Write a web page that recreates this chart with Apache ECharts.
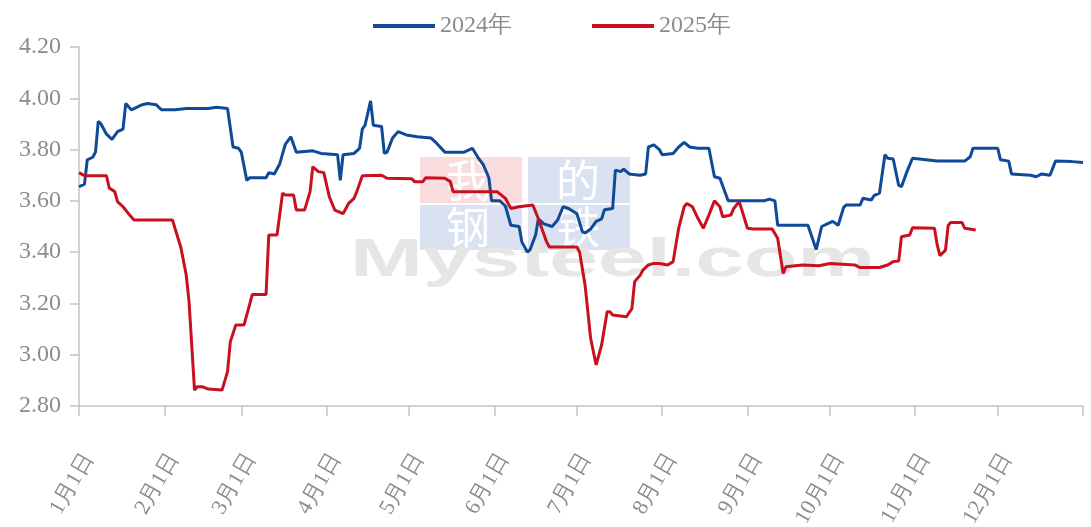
<!DOCTYPE html>
<html>
<head>
<meta charset="utf-8">
<script src="https://cdn.jsdelivr.net/npm/echarts@6/dist/echarts.min.js"></script>
<style>
    html, body {margin: 0; padding: 0; background: #fff;}
    #main {width: 1091px; height: 527px;}
</style>
</head>
<body>
<div id="main"></div>
<script>
    // 每月天数（横轴按365天排布）
    var monthDays = [31, 28, 31, 30, 31, 30, 31, 31, 30, 31, 30, 31];

    // 2024年：日序号 / 数值
    var days2024 = [0, 2, 3, 5, 6, 7, 8, 10, 12, 14, 16, 17, 19, 20, 23, 25, 28, 30, 35, 39, 47, 50, 54, 56, 58, 59, 61, 62, 68, 69, 71, 73, 75, 77, 79, 85, 88, 94, 95, 96, 100, 102, 103, 104, 106, 107, 110, 111, 112, 114, 116, 119, 123, 128, 130, 133, 140, 143, 145, 147, 149, 150, 153, 155, 157, 160, 161, 163, 164, 166, 167, 169, 172, 174, 176, 178, 181, 183, 184, 186, 188, 190, 191, 194, 195, 197, 198, 200, 204, 206, 207, 209, 211, 212, 216, 218, 220, 222, 225, 229, 231, 233, 236, 242, 249, 251, 253, 254, 265, 268, 270, 272, 274, 276, 278, 279, 284, 285, 288, 289, 291, 293, 294, 296, 298, 299, 301, 303, 312, 322, 324, 325, 334, 335, 338, 339, 346, 348, 350, 353, 355, 361, 365];
    var vals2024 = [3.655, 3.665, 3.76, 3.77, 3.79, 3.91, 3.90, 3.86, 3.84, 3.87, 3.88, 3.98, 3.955, 3.96, 3.975, 3.98, 3.975, 3.955, 3.955, 3.96, 3.96, 3.965, 3.96, 3.81, 3.805, 3.79, 3.68, 3.69, 3.69, 3.71, 3.705, 3.745, 3.82, 3.85, 3.79, 3.795, 3.785, 3.78, 3.68, 3.78, 3.785, 3.805, 3.88, 3.895, 3.99, 3.895, 3.89, 3.785, 3.79, 3.845, 3.87, 3.857, 3.85, 3.845, 3.825, 3.79, 3.79, 3.805, 3.77, 3.74, 3.69, 3.60, 3.60, 3.58, 3.505, 3.50, 3.44, 3.40, 3.41, 3.467, 3.53, 3.51, 3.50, 3.525, 3.577, 3.57, 3.55, 3.48, 3.475, 3.49, 3.52, 3.53, 3.565, 3.57, 3.72, 3.714, 3.724, 3.705, 3.70, 3.705, 3.81, 3.818, 3.80, 3.78, 3.785, 3.81, 3.828, 3.81, 3.805, 3.805, 3.694, 3.688, 3.60, 3.60, 3.60, 3.607, 3.60, 3.505, 3.505, 3.41, 3.50, 3.51, 3.52, 3.505, 3.575, 3.584, 3.584, 3.61, 3.603, 3.62, 3.63, 3.78, 3.766, 3.763, 3.66, 3.655, 3.714, 3.766, 3.755, 3.755, 3.772, 3.805, 3.805, 3.76, 3.755, 3.705, 3.70, 3.694, 3.705, 3.70, 3.755, 3.753, 3.75];

    // 2025年：日序号 / 数值
    var days2025 = [0, 2, 10, 11, 13, 14, 16, 18, 20, 34, 36, 37, 39, 40, 42, 43, 45, 47, 52, 54, 55, 57, 60, 62, 63, 68, 69, 72, 74, 75, 78, 79, 82, 84, 85, 87, 89, 91, 93, 96, 98, 100, 101, 103, 110, 112, 121, 122, 125, 126, 133, 135, 136, 152, 155, 157, 160, 165, 167, 170, 171, 181, 182, 184, 186, 188, 190, 192, 193, 194, 199, 201, 202, 204, 205, 207, 209, 211, 214, 216, 218, 220, 221, 223, 225, 227, 229, 231, 233, 234, 237, 238, 240, 241, 243, 245, 252, 254, 256, 257, 263, 269, 273, 282, 284, 291, 294, 296, 298, 299, 302, 303, 311, 312, 313, 315, 316, 317, 321, 322, 326];
    var vals2025 = [3.71, 3.698, 3.698, 3.65, 3.636, 3.597, 3.577, 3.55, 3.525, 3.525, 3.454, 3.42, 3.31, 3.207, 2.862, 2.875, 2.875, 2.866, 2.862, 2.934, 3.05, 3.116, 3.116, 3.194, 3.235, 3.235, 3.467, 3.467, 3.63, 3.623, 3.623, 3.564, 3.564, 3.636, 3.733, 3.714, 3.71, 3.616, 3.564, 3.55, 3.59, 3.61, 3.636, 3.698, 3.70, 3.688, 3.686, 3.675, 3.675, 3.69, 3.688, 3.675, 3.636, 3.636, 3.61, 3.57, 3.577, 3.584, 3.53, 3.44, 3.42, 3.42, 3.40, 3.27, 3.064, 2.96, 3.038, 3.168, 3.168, 3.155, 3.148, 3.18, 3.285, 3.31, 3.33, 3.35, 3.356, 3.356, 3.35, 3.363, 3.493, 3.577, 3.59, 3.577, 3.532, 3.493, 3.545, 3.60, 3.577, 3.538, 3.545, 3.57, 3.597, 3.564, 3.493, 3.49, 3.49, 3.454, 3.317, 3.343, 3.35, 3.347, 3.356, 3.35, 3.34, 3.34, 3.35, 3.363, 3.365, 3.46, 3.467, 3.495, 3.493, 3.428, 3.386, 3.408, 3.505, 3.516, 3.516, 3.493, 3.486];

    // 横轴类目：每天一个，末尾再加一个作为终点
    var categories = [], monthStarts = [];
    for (var m = 0; m < 12; m++) {
        monthStarts.push(categories.length);
        for (var d = 1; d <= monthDays[m]; d++) {
            categories.push((m + 1) + '月' + d + '日');
        }
    }
    categories.push('1月1日');
    var lastIndex = categories.length - 1;

    function pairs(days, vals) {
        var out = [];
        for (var i = 0; i < days.length; i++) {
            out.push([days[i], vals[i]]);
        }
        return out;
    }

    var textFont = "'Liberation Serif', 'Times New Roman', serif";
    var myChart = echarts.init(document.getElementById('main'));

    var option = {
        animation: false,
        legend: {
            top: 9,
            left: 368,
            icon: 'rect',
            itemWidth: 62,
            itemHeight: 4,
            itemGap: 80,
            textStyle: {color: '#8c8c8c', fontSize: 24, fontFamily: textFont},
            data: ['2024年', '2025年']
        },
        grid: {left: 79, right: 8, top: 47, bottom: 121, containLabel: false, outerBoundsMode: 'none'},
        graphic: [
            {type: 'rect', z: 0, shape: {x: 420, y: 157, width: 102, height: 46}, style: {fill: '#f9dcde'}},
            {type: 'rect', z: 0, shape: {x: 528, y: 157, width: 102, height: 46}, style: {fill: '#dae2f1'}},
            {type: 'rect', z: 0, shape: {x: 420, y: 205, width: 102, height: 45}, style: {fill: '#dae2f1'}},
            {type: 'rect', z: 0, shape: {x: 528, y: 205, width: 102, height: 45}, style: {fill: '#dae2f1'}},
            {type: 'text', z: 0, left: 446, top: 158, style: {text: '我', fill: '#fff', fontSize: 44, fontFamily: 'Noto Sans CJK SC'}},
            {type: 'text', z: 0, left: 556, top: 158, style: {text: '的', fill: '#fff', fontSize: 44, fontFamily: 'Noto Sans CJK SC'}},
            {type: 'text', z: 0, left: 446, top: 205, style: {text: '钢', fill: '#fff', fontSize: 44, fontFamily: 'Noto Sans CJK SC'}},
            {type: 'text', z: 0, left: 556, top: 205, style: {text: '铁', fill: '#fff', fontSize: 44, fontFamily: 'Noto Sans CJK SC'}},
            {
                type: 'text', z: 0, x: 350, y: 234, scaleX: 1.62,
                style: {text: 'Mysteel.com', fill: '#e6e6e6', fontSize: 54, fontWeight: 'bold', fontFamily: "'Liberation Sans', Arial, sans-serif"}
            }
        ],
        xAxis: {
            type: 'category',
            boundaryGap: false,
            data: categories,
            axisLine: {lineStyle: {color: '#c4c4c4', width: 1.5}},
            axisTick: {
                length: 10,
                lineStyle: {color: '#c4c4c4', width: 1.5},
                interval: function (index) {
                    return monthStarts.indexOf(index) >= 0 || index === lastIndex;
                }
            },
            axisLabel: {
                rotate: 60,
                margin: 44,
                verticalAlign: 'top',
                color: '#8c8c8c',
                fontSize: 22,
                fontFamily: textFont,
                interval: function (index) {
                    return monthStarts.indexOf(index) >= 0;
                }
            },
            splitLine: {show: false}
        },
        yAxis: {
            type: 'value',
            min: 2.8,
            max: 4.2,
            interval: 0.2,
            axisLine: {show: true, lineStyle: {color: '#c4c4c4', width: 1.5}},
            axisTick: {show: true, length: 9, lineStyle: {color: '#c4c4c4', width: 1.5}},
            axisLabel: {
                margin: 18,
                color: '#8c8c8c',
                fontSize: 24,
                fontFamily: textFont,
                formatter: function (v) { return v.toFixed(2); }
            },
            splitLine: {show: false}
        },
        series: [
            {
                name: '2024年',
                type: 'line',
                showSymbol: false,
                z: 3,
                itemStyle: {color: '#0f4a98'},
                lineStyle: {color: '#0f4a98', width: 3},
                data: pairs(days2024, vals2024)
            },
            {
                name: '2025年',
                type: 'line',
                showSymbol: false,
                z: 4,
                itemStyle: {color: '#c8101f'},
                lineStyle: {color: '#c8101f', width: 3},
                data: pairs(days2025, vals2025)
            }
        ]
    };

    myChart.setOption(option);
</script>
</body>
</html>
